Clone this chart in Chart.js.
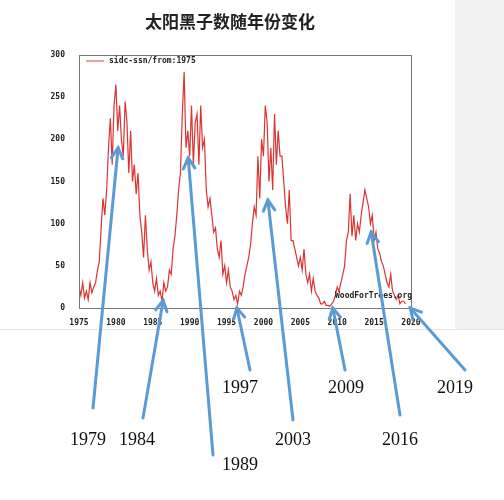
<!DOCTYPE html>
<html><head><meta charset="utf-8">
<script src="https://cdn.jsdelivr.net/npm/chart.js@4"></script>
<style>html,body{margin:0;padding:0;background:#fff}</style></head>
<body><canvas id="c" width="504" height="500"></canvas>
<script>
const startYear = 1975;
const stepYears = 0.25;
const ssn = [25,15,30,12, 20,10,30,18, 25,30,45,55, 95,130,110,140, 190,225,170,240,
 265,210,240,200, 180,245,220,160, 210,150,170,135, 160,110,90,60, 110,70,45,55,
 30,20,35,15, 20,8,30,20, 25,45,40,70, 85,110,140,160, 230,280,190,210,
 180,240,170,220, 230,170,240,190, 200,140,120,130, 110,90,95,70, 60,80,40,50,
 30,45,25,20, 10,15,5,20, 15,25,40,50, 60,75,100,120, 110,180,130,200,
 180,240,220,150, 190,140,230,170, 210,180,180,150, 120,100,140,80, 80,70,60,50,
 60,45,70,40, 30,40,20,35, 20,15,12,5, 5,8,3,3, 2,5,8,15,
 25,20,30,40, 50,80,90,135, 85,110,80,100, 90,110,125,140, 130,120,100,110,
 80,90,70,65, 55,50,40,30, 25,40,20,15, 10,15,5,8, 8,5];
const xTicks = [1975,1980,1985,1990,1995,2000,2005,2010,2015,2020];
const yTicks = [0,50,100,150,200,250,300];
const arrowLabels = ['1979','1984','1989','1997','2003','2009','2016','2019'];
const arrowTipYear = [1980.3,1986.4,1989.8,1996.4,2000.6,2009.4,2014.6,2019.9];
const arrowTipValue = [190,9,178,0,128,0,90,0];
const arrowTail = [[93,408],[143,418],[213,455],[250,370],[293,420],[345,370],[400,415],[465,370]];
const labelPos = [[88,440],[137,440],[240,465],[240,388],[293,440],[346,388],[400,440],[455,388]];

const points = ssn.map((v,i)=>({x:startYear+i*stepYears,y:v}));
const deco = {
  id:'deco',
  beforeDraw(ch){const c=ch.ctx;c.save();c.fillStyle='#fff';c.fillRect(0,0,504,500);
    c.fillStyle='#f2f2f2';c.fillRect(455,0,49,330);c.fillStyle='#e6e6e6';c.fillRect(0,329,504,1);c.restore();},
  afterDatasetsDraw(ch){
    const c=ch.ctx,a=ch.chartArea,xs=ch.scales.x,ys=ch.scales.y;
    c.save();
    c.strokeStyle='#777';c.lineWidth=1;c.strokeRect(a.left+.5,a.top+.5,a.right-a.left,a.bottom-a.top);
    c.font='bold 17px "Noto Sans CJK SC"';c.fillStyle='#222';c.textAlign='center';c.textBaseline='middle';
    c.fillText('太阳黑子数随年份变化',230,22);
    c.strokeStyle='#d44';c.beginPath();c.moveTo(86,61);c.lineTo(104,61);c.stroke();
    c.font='bold 8px "DejaVu Sans Mono"';c.fillStyle='#222';c.textAlign='left';
    c.fillText('sidc-ssn/from:1975',109,61);
    c.fillText('WoodForTrees.org',335,296);
    c.strokeStyle='#5b9bd5';c.lineWidth=3;c.lineCap='round';
    arrowLabels.forEach((l,i)=>{
      const tx=xs.getPixelForValue(arrowTipYear[i]),ty=ys.getPixelForValue(arrowTipValue[i]);
      const [sx,sy]=arrowTail[i];
      c.beginPath();c.moveTo(sx,sy);c.lineTo(tx,ty);c.stroke();
      const ang=Math.atan2(ty-sy,tx-sx),h=12;
      c.beginPath();
      c.moveTo(tx-h*Math.cos(ang-0.5),ty-h*Math.sin(ang-0.5));c.lineTo(tx,ty);
      c.lineTo(tx-h*Math.cos(ang+0.5),ty-h*Math.sin(ang+0.5));c.stroke();
    });
    c.font='18px "Liberation Serif"';c.fillStyle='#111';c.textAlign='center';
    arrowLabels.forEach((l,i)=>c.fillText(l,labelPos[i][0],labelPos[i][1]));
    c.restore();
  }
};
new Chart(document.getElementById('c'),{
  type:'line',
  data:{datasets:[{data:points,borderColor:'#dd3333',borderWidth:1.2,pointRadius:0,tension:0}]},
  options:{responsive:false,animation:false,
    layout:{padding:{top:55,right:93,left:0,bottom:0}},
    plugins:{legend:{display:false},tooltip:{enabled:false}},
    scales:{
      x:{type:'linear',min:1975,max:2020,grid:{display:false},border:{display:false},
        afterBuildTicks(s){s.ticks=xTicks.map(v=>({value:v}));},
        afterFit(s){s.height=192;},
        ticks:{callback:v=>String(v),maxRotation:0,padding:2,font:{family:'DejaVu Sans Mono',size:8,weight:'bold'},color:'#222'}},
      y:{min:0,max:300,grid:{display:false},border:{display:false},
        afterBuildTicks(s){s.ticks=yTicks.map(v=>({value:v}));},
        afterFit(s){s.width=79;},
        ticks:{callback:v=>String(v),padding:6,font:{family:'DejaVu Sans Mono',size:8,weight:'bold'},color:'#222'}}
    }},
  plugins:[deco]
});
</script></body></html>
